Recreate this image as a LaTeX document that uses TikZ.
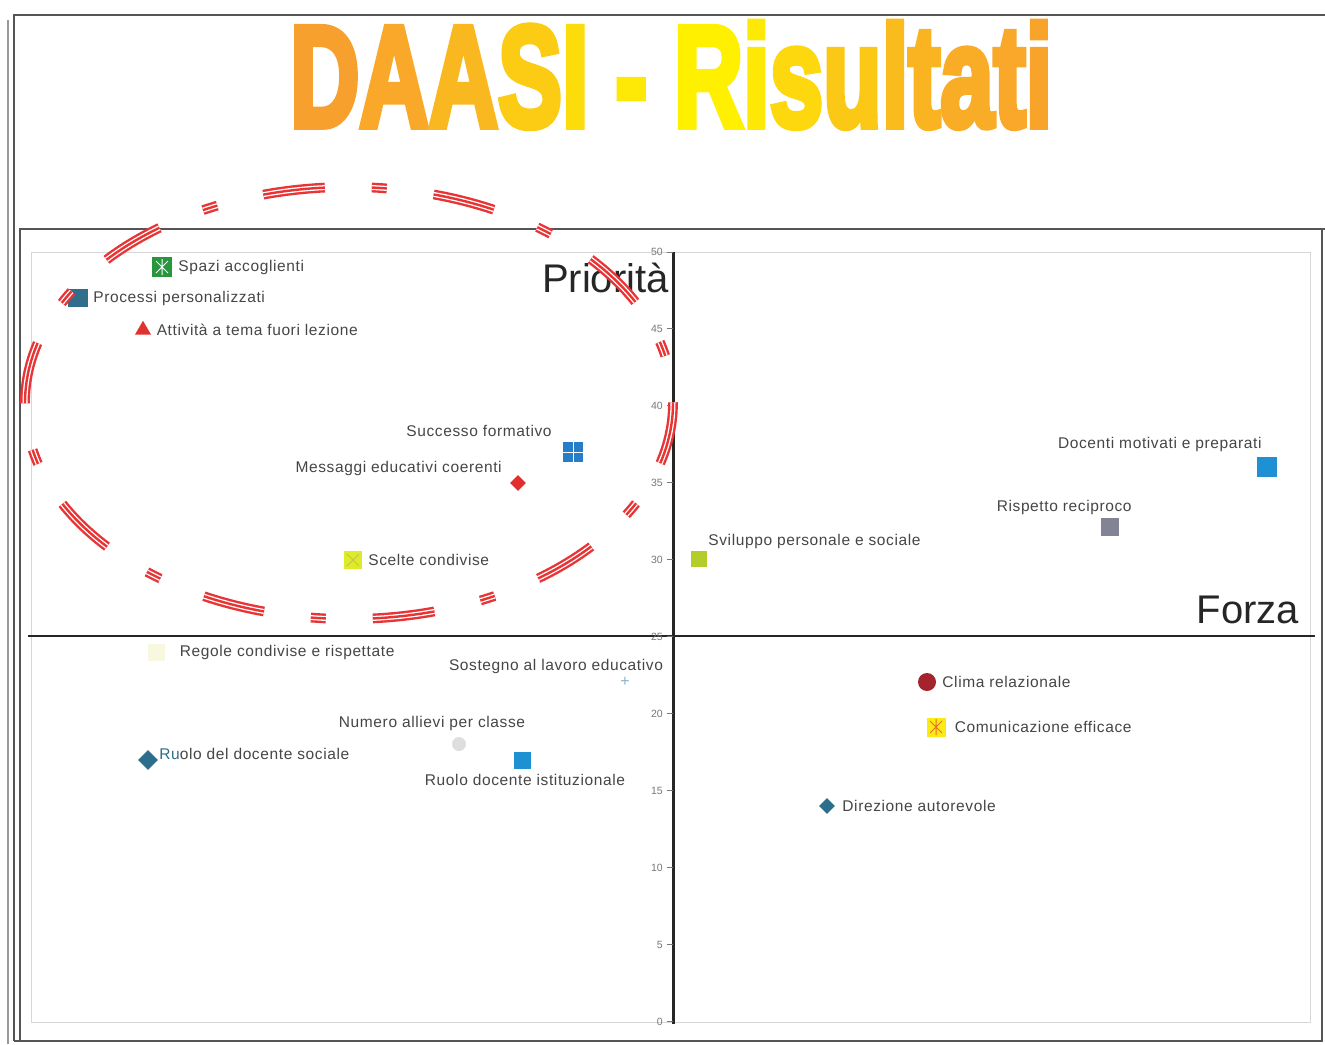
\documentclass[tikz,border=0pt]{standalone}
\usepackage{fontspec}
\setmainfont{Liberation Sans}
\newfontfamily\titlefont{Liberation Sans Bold}[FakeBold=5]
\newfontfamily\lblfont{Liberation Sans}[LetterSpace=4]
\usepackage{graphicx}
\usepackage{tikz}
\usetikzlibrary{shapes.geometric,positioning,calc}
\definecolor{labelgray}{RGB}{70,70,70}
\definecolor{tickgray}{RGB}{120,120,120}
\definecolor{framegray}{RGB}{85,85,85}
\definecolor{plotgray}{RGB}{215,215,215}
\definecolor{ellred}{RGB}{232,52,52}
\definecolor{titleorange}{RGB}{248,160,45}
\definecolor{titleyellow}{RGB}{255,240,0}
\definecolor{spazigreen}{RGB}{40,150,60}
\definecolor{procteal}{RGB}{50,110,140}
\definecolor{trired}{RGB}{225,50,50}
\definecolor{succblue}{RGB}{40,125,200}
\definecolor{msgred}{RGB}{225,45,45}
\definecolor{scelteyellow}{RGB}{222,236,40}
\definecolor{sceltex}{RGB}{200,190,90}
\definecolor{svilgreen}{RGB}{180,205,40}
\definecolor{docblue}{RGB}{30,145,210}
\definecolor{rispgray}{RGB}{130,132,150}
\definecolor{regolecol}{RGB}{248,248,225}
\definecolor{sostblue}{RGB}{140,180,210}
\definecolor{numgray}{RGB}{222,222,222}
\definecolor{dirteal}{RGB}{45,110,140}
\definecolor{climared}{RGB}{165,35,45}
\definecolor{comyellow}{RGB}{250,235,20}
\definecolor{comorange}{RGB}{235,110,40}
\newcommand{\ttlchar}[2]{\textcolor{titleorange!#1!titleyellow}{#2}}
\newcommand{\titlebox}[1]{\resizebox{762pt}{104pt}{\titlefont #1}}
\tikzset{
    node distance=5pt,
    frame/.style={draw=framegray, line width=1.2pt},
    plotframe/.style={draw=plotgray, line width=1pt},
    axis/.style={draw=black!85, line width=2.5pt},
    tickline/.style={draw=tickgray, line width=1pt},
    ticklbl/.style={font=\fontsize{10.5}{12}\selectfont, text=tickgray, inner sep=0pt, anchor=east},
    axlbl/.style={font=\fontsize{40}{44}\selectfont, text=black!85, inner sep=0pt},
    titlenode/.style={anchor=north west, inner sep=0pt},
    lbl/.style={font=\lblfont\fontsize{15.5}{18}\selectfont, text=labelgray, inner sep=1pt},
    sqmk/.style={rectangle, minimum size=#1, inner sep=0pt},
    dmk/.style={diamond, minimum size=#1, inner sep=0pt},
    circmk/.style={circle, minimum size=#1, inner sep=0pt},
    trimk/.style={regular polygon, regular polygon sides=3, minimum size=18.5pt, inner sep=0pt},
    asterisk/.style={path picture={
        \draw[#1, line width=1pt] (path picture bounding box.center) ++(-6,-6) -- ++(12,12)
            (path picture bounding box.center) ++(-6,6) -- ++(12,-12)
            (path picture bounding box.center) ++(0,-8) -- ++(0,16);}},
    xmk/.style={path picture={
        \draw[#1, line width=0.8pt] (path picture bounding box.center) ++(-6,-6) -- ++(12,12)
            (path picture bounding box.center) ++(-6,6) -- ++(12,-12);}},
    plusmk/.style={path picture={
        \draw[#1, line width=1pt] (path picture bounding box.center) ++(-10,0) -- ++(20,0)
            (path picture bounding box.center) ++(0,-10) -- ++(0,20);}},
    band/.style={draw=ellred, line width=2.4pt, dash pattern=on 62pt off 47pt on 15pt off 47.3pt}
}
\begin{document}
\begin{tikzpicture}[x=1pt,y=-1pt]
    \useasboundingbox (0,0) rectangle (1325,1044);
    \fill[white] (0,0) rectangle (1325,1044);
    % slide and chart frames
    \draw[frame, draw=framegray!60] (8,1044) -- (8,20);
    \draw[frame] (14,1041) -- (14,15) -- (1325,15);
    \draw[frame] (20,1041) -- (20,229) -- (1325,229);
    \draw[frame] (14,1041) -- (1322,1041) -- (1322,229);
    \draw[plotframe] (31,252) rectangle (1310,1022);
    % title
    \node[titlenode] (title) at (290,22) {\titlebox{\ttlchar{100}{D}\ttlchar{90}{A}\ttlchar{70}{A}\ttlchar{45}{S}\ttlchar{25}{I} \ttlchar{10}{-} \ttlchar{0}{R}\ttlchar{10}{i}\ttlchar{30}{s}\ttlchar{50}{u}\ttlchar{65}{l}\ttlchar{75}{t}\ttlchar{85}{a}\ttlchar{90}{t}\ttlchar{95}{i}}};
    % axes
    \coordinate (ytop) at (673,252);
    \coordinate (ybot) at (673,1024);
    \coordinate (xleft) at (28,636);
    \coordinate (xright) at (1315,636);
    \draw[axis] (xleft) -- (xright);
    \draw[axis, line width=3pt] (ybot) -- (ytop);
    \foreach \v in {0,5,...,50}{
        \coordinate (t\v) at (673,{1021.5-15.39*\v});
        \draw[tickline] (t\v) -- ++(-6,0);
        \node[ticklbl] (tl\v) at ([xshift=-10pt]t\v) {\v};
    }
    \node[axlbl, anchor=base east] (prio) at (669,292) {Priorità};
    \node[axlbl, anchor=base east] (forza) at (1299,623) {Forza};
    % upper left quadrant
    \node[sqmk=20pt, fill=spazigreen, asterisk=white] (spazimk) at (162,267) {};
    \node[lbl, right=5pt of spazimk] (spazi) {Spazi accoglienti};
    \node[rectangle, minimum width=20pt, minimum height=18pt, fill=procteal] (procmk) at (78,298) {};
    \node[lbl, right=4pt of procmk] (proc) {Processi personalizzati};
    \node[trimk, fill=trired] (attmk) at (143,330) {};
    \node[lbl, right=7pt of attmk] (att) {Attività a tema fuori lezione};
    \node[sqmk=20pt, fill=succblue, plusmk=white] (succmk) at (573,452) {};
    \node[lbl, above left=4pt and 10pt of succmk] (succ) {Successo formativo};
    \node[dmk=16pt, fill=msgred] (msgmk) at (518,483) {};
    \node[lbl, above left=2pt and 11pt of msgmk] (msg) {Messaggi educativi coerenti};
    \node[sqmk=18pt, fill=scelteyellow, xmk=sceltex] (sceltemk) at (353,560) {};
    \node[lbl, right=5pt of sceltemk] (scelte) {Scelte condivise};
    % upper right quadrant
    \node[sqmk=16pt, fill=svilgreen] (svilmk) at (699,559) {};
    \node[lbl, above right=1pt and 0pt of svilmk] (svil) {Sviluppo personale e sociale};
    \node[sqmk=20pt, fill=docblue] (docmk) at (1267,467) {};
    \node[lbl, above left=4pt and -6pt of docmk] (doc) {Docenti motivati e preparati};
    \node[sqmk=18pt, fill=rispgray] (rispmk) at (1110,527) {};
    \node[lbl, above left=2pt and -32pt of rispmk] (risp) {Rispetto reciproco};
    % lower left quadrant
    \node[sqmk=17pt, fill=regolecol] (regmk) at (156,652) {};
    \node[lbl, right=14pt of regmk] (reg) {Regole condivise e rispettate};
    \node[inner sep=0pt, text=sostblue, font=\fontsize{16}{16}\selectfont] (sostmk) at (625,682) {+};
    \node[lbl, above left=2pt and -44pt of sostmk] (sost) {Sostegno al lavoro educativo};
    \node[circmk=14pt, fill=numgray] (nummk) at (459,744) {};
    \node[lbl, above=5pt of nummk, xshift=-27pt] (num) {Numero allievi per classe};
    \node[dmk=20pt, fill=dirteal] (rsocmk) at (148,760) {};
    \node[lbl, right=0pt of rsocmk, yshift=6pt] (rsoc) {\textcolor{dirteal}{Ru}olo del docente sociale};
    \node[sqmk=17pt, fill=docblue] (ristmk) at (522,760) {};
    \node[lbl, below=4pt of ristmk, xshift=3pt] (rist) {Ruolo docente istituzionale};
    % lower right quadrant
    \node[circmk=18pt, fill=climared] (climamk) at (927,682) {};
    \node[lbl, right=5pt of climamk] (clima) {Clima relazionale};
    \node[sqmk=19pt, fill=comyellow, asterisk=comorange] (commk) at (936,727) {};
    \node[lbl, right=8pt of commk] (com) {Comunicazione efficace};
    \node[dmk=16pt, fill=dirteal] (dirmk) at (827,806) {};
    \node[lbl, right=6pt of dirmk] (dir) {Direzione autorevole};
    % priority ring
    \draw[band, double=white, double distance=5pt] (349,403) ellipse [x radius=324, y radius=216];
    \draw[band] (349,403) ellipse [x radius=324, y radius=216];
\end{tikzpicture}
\end{document}
